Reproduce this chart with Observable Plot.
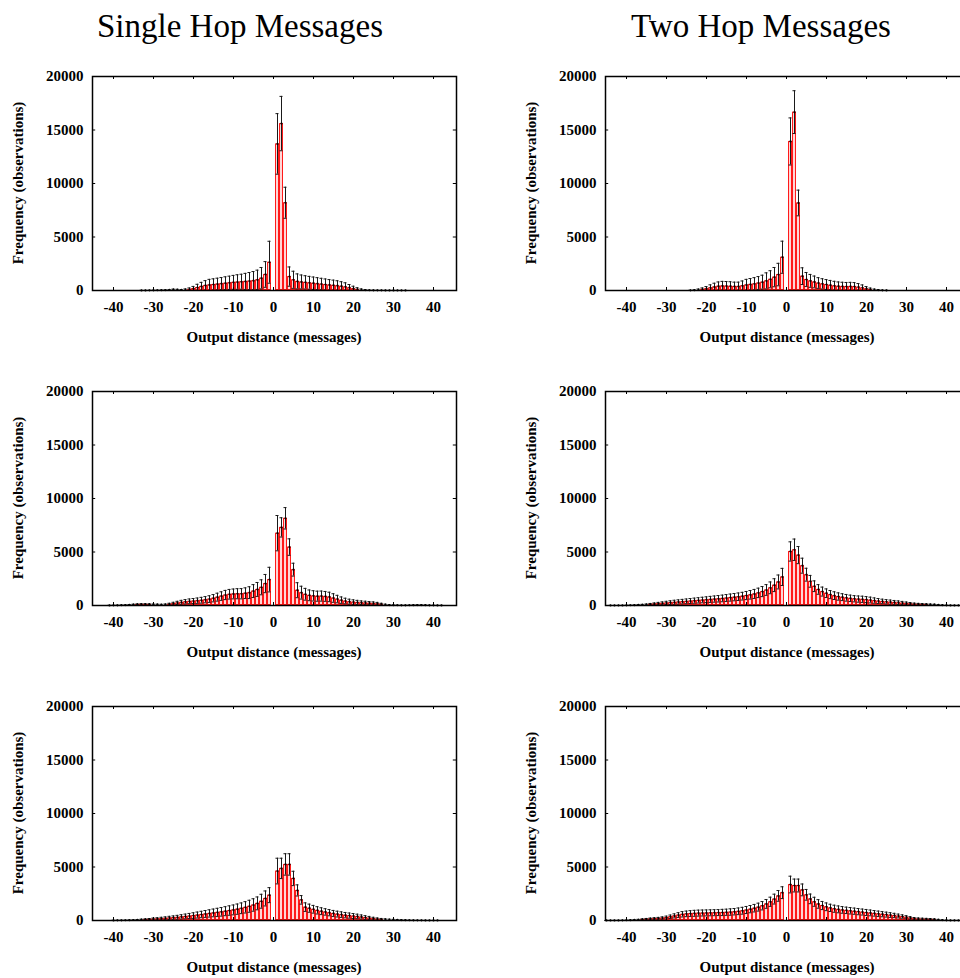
<!DOCTYPE html>
<html><head><meta charset="utf-8">
<script src="https://cdn.jsdelivr.net/npm/d3@7"></script>
<script src="https://cdn.jsdelivr.net/npm/@observablehq/plot@0.6"></script>
<style>
html,body{margin:0;padding:0;background:#fff;}
#root{position:relative;width:960px;height:978px;overflow:hidden;font-family:"Liberation Serif",serif;color:#000;}
.panel{position:absolute;width:468px;}
.panel svg{max-width:none !important;display:block;}
.panel svg text{font-weight:bold;}
.title{position:absolute;font-size:33px;white-space:nowrap;transform:translate(-50%,-50%);}
.xlab{position:absolute;font-size:15px;font-weight:bold;white-space:nowrap;transform:translate(-50%,-50%);}
.ylab{position:absolute;font-size:15px;font-weight:bold;white-space:nowrap;transform:translate(-50%,-50%) rotate(-90deg);}
</style></head><body><div id="root"></div>
<script>
// Column titles and axis texts
const TITLES = ["Single Hop Messages", "Two Hop Messages"];
const X_LABEL = "Output distance (messages)";
const Y_LABEL = "Frequency (observations)";
const X_TICKS = [-40, -30, -20, -10, 0, 10, 20, 30, 40];
const Y_TICKS = [0, 5000, 10000, 15000, 20000];

// Single hop, row 1 (distances start at S1_START, step 1)
const S1_START = -33;
const S1_FREQ = [8,10,15,20,25,30,40,50,80,70,50,70,110,180,280,380,470,520,560,600,640,680,720,760,790,820,850,880,920,1000,1150,1500,2640,
  null,
  13700,15600,8200,1300,1000,850,800,760,720,680,640,600,560,520,490,450,400,340,260,180,110,60,40,25,20,15,12,10,8,6,5,4,3];
const S1_ERR = [5,6,8,10,12,15,20,30,50,50,40,80,130,200,300,380,450,520,530,550,570,600,620,650,680,700,750,800,850,900,1000,1200,1960,
  null,
  2830,2540,1450,900,800,700,650,620,600,580,560,540,520,500,480,460,420,380,300,220,150,90,50,30,20,15,12,10,8,6,5,4,3];

// Two hop, row 1
const T1_START = -24;
const T1_FREQ = [15,30,60,110,170,250,330,400,430,420,400,380,380,440,520,570,620,700,780,900,1050,1250,1490,3110,
  null,
  13930,16670,8180,1340,1030,900,800,700,620,560,500,440,400,380,370,380,370,320,250,170,100,60,40,20,10];
const T1_ERR = [15,40,80,130,200,280,350,400,420,420,420,400,400,450,520,550,580,600,650,750,800,900,1050,1500,
  null,
  2200,2000,1200,780,650,600,550,500,480,460,440,420,400,390,380,380,370,330,270,200,130,80,50,25,12];

// Single hop, row 2
const S2_START = -41;
const S2_FREQ = [10,15,20,30,40,60,80,100,110,110,100,90,80,70,80,120,180,240,300,350,390,420,450,490,540,600,680,780,880,980,1050,1080,1100,1100,1150,1200,1350,1500,1700,2050,2420,
  null,
  6760,7300,8150,5460,3350,1430,1200,1050,950,900,870,880,850,800,700,600,500,420,360,320,290,260,240,220,200,170,120,70,40,30,25,20,20,25,35,40,40,30,20,15,10,8];
const S2_ERR = [8,10,12,15,20,30,40,50,60,60,60,50,50,50,60,90,120,150,180,200,220,230,250,270,290,310,340,370,400,430,450,460,470,480,500,550,600,650,700,850,1150,
  null,
  1650,900,1000,770,600,700,600,550,500,480,470,470,460,440,400,350,300,260,230,210,190,170,160,150,140,120,90,60,40,30,25,20,20,25,30,35,35,30,20,15,10,8];

// Two hop, row 2
const T2_START = -44;
const T2_FREQ = [3,4,5,8,15,25,35,50,70,90,120,150,180,210,240,270,300,330,360,390,420,450,480,510,540,570,600,630,660,700,740,780,820,870,930,1000,1080,1180,1300,1450,1650,1900,2200,2670,
  null,
  5050,5210,4710,3720,2880,2260,1800,1500,1300,1150,1020,920,840,780,720,670,630,600,580,550,510,460,420,380,350,320,290,260,230,200,170,140,120,110,100,90,80,50,30,15,10,8,5,4,3];
const T2_ERR = [3,4,5,6,10,15,20,30,40,50,70,90,110,130,150,170,190,200,210,220,230,240,250,260,270,280,290,300,310,320,330,340,350,360,380,400,420,440,470,500,550,600,650,800,
  null,
  900,1000,800,700,600,550,500,450,420,400,380,360,340,320,310,300,290,290,290,280,270,250,230,210,200,190,180,170,150,130,110,90,80,70,60,50,40,30,20,10,8,6,5,4,3];

// Single hop, row 3
const S3_START = -40;
const S3_FREQ = [10,15,20,25,35,45,60,80,100,120,140,160,180,210,240,270,300,340,380,420,460,510,560,610,660,710,760,810,870,930,990,1060,1140,1230,1330,1450,1600,1800,2060,2370,
  null,
  4620,4870,5240,5240,3930,2810,1930,1250,1150,1050,950,870,800,730,660,600,550,500,460,420,380,330,280,230,180,140,110,90,70,60,50,40,30,25,20,15,12,10,8,6,5];
const S3_ERR = [8,10,12,15,20,25,30,40,50,60,90,100,120,130,150,160,180,200,220,240,260,280,300,320,340,360,380,400,420,440,460,480,500,530,560,580,600,650,700,700,
  null,
  1200,950,1000,1000,670,520,400,400,380,360,340,320,300,290,280,270,260,250,240,230,210,190,170,150,120,100,80,70,60,50,40,35,30,25,20,15,12,10,8,6,5];

// Two hop, row 3
const T3_START = -45;
const T3_FREQ = [3,5,8,10,15,25,35,50,70,100,130,160,180,200,230,280,350,430,510,580,620,650,670,690,700,710,720,730,740,750,770,790,820,860,910,980,1060,1150,1250,1380,1550,1750,2000,2300,2600,
  null,
  3360,3270,3270,2860,2400,2020,1750,1550,1400,1280,1180,1100,1040,990,950,910,870,830,790,750,710,670,630,590,550,510,470,420,370,310,240,180,150,140,130,120,100,70,40,20,10,8,5,4,3];
const T3_ERR = [3,4,6,8,10,15,20,30,40,50,60,70,80,90,110,130,160,190,220,250,260,270,280,280,280,280,280,280,280,290,290,300,300,310,320,330,340,350,370,390,410,430,460,500,550,
  null,
  780,600,600,550,500,450,420,400,380,360,340,330,320,310,300,300,290,290,280,280,270,260,250,240,230,220,200,180,160,140,120,100,90,80,70,60,50,40,30,20,10,8,6,4,3];

const PANELS = [
  [S1_START, S1_FREQ, S1_ERR, 0, 0],
  [T1_START, T1_FREQ, T1_ERR, 1, 0],
  [S2_START, S2_FREQ, S2_ERR, 0, 1],
  [T2_START, T2_FREQ, T2_ERR, 1, 1],
  [S3_START, S3_FREQ, S3_ERR, 0, 2],
  [T3_START, T3_FREQ, T3_ERR, 1, 2]
];

// layout
const FRAME_LEFT = [92, 605];
const FRAME_TOP = [75.7, 390.7, 705.7];
const FW = 364, FH = 214;
const ML = 92, MR = 12, MT = 10, MB = 50;
const XDOM = [-45.25, 45.75], YDOM = [0, 20000];
const TICK_X = 0.8;                 // inward tick length in x units (~3px)
const TICK_Y = 3 * 20000 / FH;      // inward tick length in y units (~3px)
const FONT = "Liberation Serif";

const root = document.getElementById("root");

function makePanel(start, freq, err) {
  const data = freq.map((v, i) => ({x: start + i, v, e: err[i]})).filter(d => d.v != null);
  return Plot.plot({
    width: ML + FW + MR, height: MT + FH + MB,
    marginLeft: ML, marginRight: MR, marginTop: MT, marginBottom: MB,
    x: {domain: XDOM},
    y: {domain: YDOM},
    style: {fontFamily: FONT, fontSize: "15px", color: "#000", background: "transparent", overflow: "visible", maxWidth: "none"},
    marks: [
      Plot.rectY(data, {x1: d => d.x - 0.5, x2: d => d.x + 0.5, y: "v", fill: "#ffd6d6", stroke: "#ff1a1a", strokeWidth: 1, inset: 0.5}),
      Plot.ruleX(data, {x: "x", y1: d => Math.max(0, d.v - d.e), y2: d => d.v + d.e, stroke: "#1a1a1a", strokeWidth: 1}),
      Plot.ruleY(data, {y: d => d.v + d.e, x1: d => d.x - 0.38, x2: d => d.x + 0.38, stroke: "#1a1a1a", strokeWidth: 1}),
      Plot.ruleY(data, {y: d => Math.max(0, d.v - d.e), x1: d => d.x - 0.38, x2: d => d.x + 0.38, stroke: "#1a1a1a", strokeWidth: 1}),
      Plot.dot(data, {x: "x", y: "v", r: 1.1, fill: "#000"}),
      // inward ticks on all four sides
      Plot.ruleY(Y_TICKS, {y: d => d, x1: () => XDOM[0], x2: () => XDOM[0] + TICK_X, stroke: "#000"}),
      Plot.ruleY(Y_TICKS, {y: d => d, x1: () => XDOM[1] - TICK_X, x2: () => XDOM[1], stroke: "#000"}),
      Plot.ruleX(X_TICKS, {x: d => d, y1: () => YDOM[0], y2: () => YDOM[0] + TICK_Y, stroke: "#000"}),
      Plot.ruleX(X_TICKS, {x: d => d, y1: () => YDOM[1] - TICK_Y, y2: () => YDOM[1], stroke: "#000"}),
      Plot.frame({stroke: "#000", strokeWidth: 1.5}),
      Plot.axisX(X_TICKS, {tickSize: 0, tickPadding: 11, label: null, tickFormat: d => String(d), fontSize: 15}),
      Plot.axisY(Y_TICKS, {tickSize: 0, tickPadding: 9, label: null, tickFormat: d => String(d), fontSize: 15})
    ]
  });
}

PANELS.forEach(([start, freq, err, col, row]) => {
  const svg = makePanel(start, freq, err);
  const div = document.createElement("div");
  div.className = "panel";
  div.style.left = (FRAME_LEFT[col] - ML) + "px";
  div.style.top = (FRAME_TOP[row] - MT) + "px";
  div.appendChild(svg);
  root.appendChild(div);

  const xl = document.createElement("div");
  xl.className = "xlab";
  xl.textContent = X_LABEL;
  xl.style.left = (FRAME_LEFT[col] + FW / 2) + "px";
  xl.style.top = (FRAME_TOP[row] + FH + 47) + "px";
  root.appendChild(xl);

  const yl = document.createElement("div");
  yl.className = "ylab";
  yl.textContent = Y_LABEL;
  yl.style.left = (FRAME_LEFT[col] - 74) + "px";
  yl.style.top = (FRAME_TOP[row] + FH / 2) + "px";
  root.appendChild(yl);
});

const TITLE_X = [240, 761];
TITLES.forEach((t, i) => {
  const d = document.createElement("div");
  d.className = "title";
  d.textContent = t;
  d.style.left = TITLE_X[i] + "px";
  d.style.top = "26px";
  root.appendChild(d);
});
</script></body></html>
